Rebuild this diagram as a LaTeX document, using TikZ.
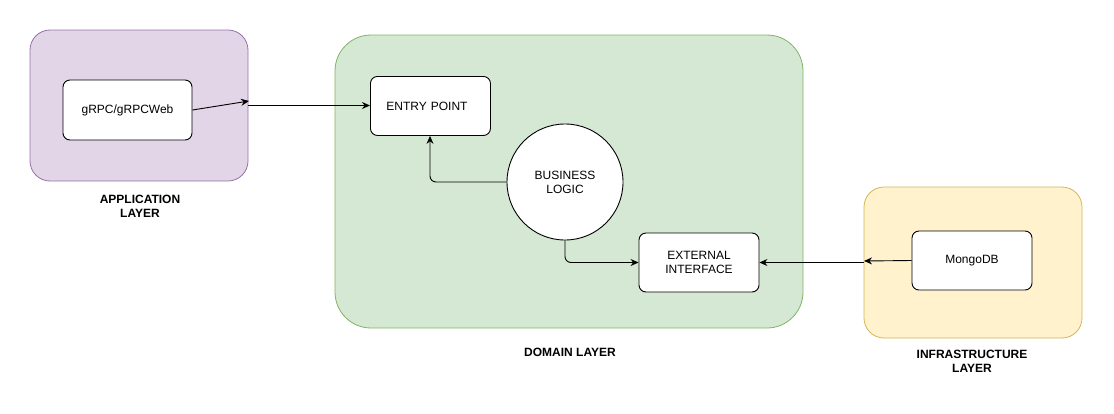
\documentclass[tikz,border=0pt]{standalone}
\usepackage{fontspec}
\setmainfont{Liberation Sans}
\usetikzlibrary{arrows.meta}
\definecolor{appfill}{HTML}{E1D5E7}
\definecolor{appline}{HTML}{9673A6}
\definecolor{domfill}{HTML}{D5E8D4}
\definecolor{domline}{HTML}{82B366}
\definecolor{infill}{HTML}{FFF2CC}
\definecolor{inline}{HTML}{D6B656}
\begin{document}
\begin{tikzpicture}[x=1pt,y=-1pt,
  layer/.style={line width=0.8pt},
  box/.style={draw=black,fill=white,line width=0.9pt,rounded corners=7pt},
  lbl/.style={font=\fontsize{12}{14}\selectfont,align=center,inner sep=0pt},
  title/.style={font=\bfseries\fontsize{12}{14}\selectfont,align=center,inner sep=0pt},
  link/.style={draw=black,line width=0.9pt,-{Stealth[length=8pt,width=7pt]}},
  elbow/.style={link,rounded corners=6pt}]
\useasboundingbox (0,0) rectangle (1114,413);

% layer containers
\draw[layer,fill=appfill,draw=appline,rounded corners=20pt] (30,30) rectangle (248,181);
\draw[layer,fill=domfill,draw=domline,rounded corners=36pt] (335,35) rectangle (803,328);
\draw[layer,fill=infill,draw=inline,rounded corners=20pt] (864,187) rectangle (1082,338);

% anchor points on the container edges
\coordinate (appout) at (249,101);
\coordinate (appedge) at (248,105.5);
\coordinate (infin) at (864,261);
\coordinate (infedge) at (864,262.5);
\coordinate (upturn) at (430,0);

% components
\node[box,minimum width=129pt,minimum height=60pt,lbl] (grpc) at (127.5,110) {gRPC/gRPCWeb};
\node[box,minimum width=120pt,minimum height=59pt,lbl,anchor=north west,text width=88pt,align=left] (entry) at (370,76) {ENTRY POINT};
\node[draw=black,fill=white,line width=0.9pt,circle,minimum size=116pt,lbl] (logic) at (565,182) {BUSINESS\\LOGIC};
\node[box,minimum width=120pt,minimum height=59pt,lbl] (ext) at (699,262.5) {EXTERNAL\\INTERFACE};
\node[box,minimum width=120pt,minimum height=59pt,lbl] (mongo) at (972,260.5) {MongoDB};

% layer titles
\node[title] (apptitle) at (140,206.5) {APPLICATION\\LAYER};
\node[title] (domtitle) at (570,352) {DOMAIN LAYER};
\node[title] (inftitle) at (972,361.5) {INFRASTRUCTURE\\LAYER};

% connectors
\draw[link] (grpc.east) -- (appout);
\draw[link] (appedge) -- (appedge -| entry.west);
\draw[elbow] (logic.west) -| (entry.south -| upturn);
\draw[elbow] (logic.south) |- (ext.west);
\draw[link] (mongo.west) -- (infin);
\draw[link] (infedge) -- (infedge -| ext.east);
\end{tikzpicture}
\end{document}
